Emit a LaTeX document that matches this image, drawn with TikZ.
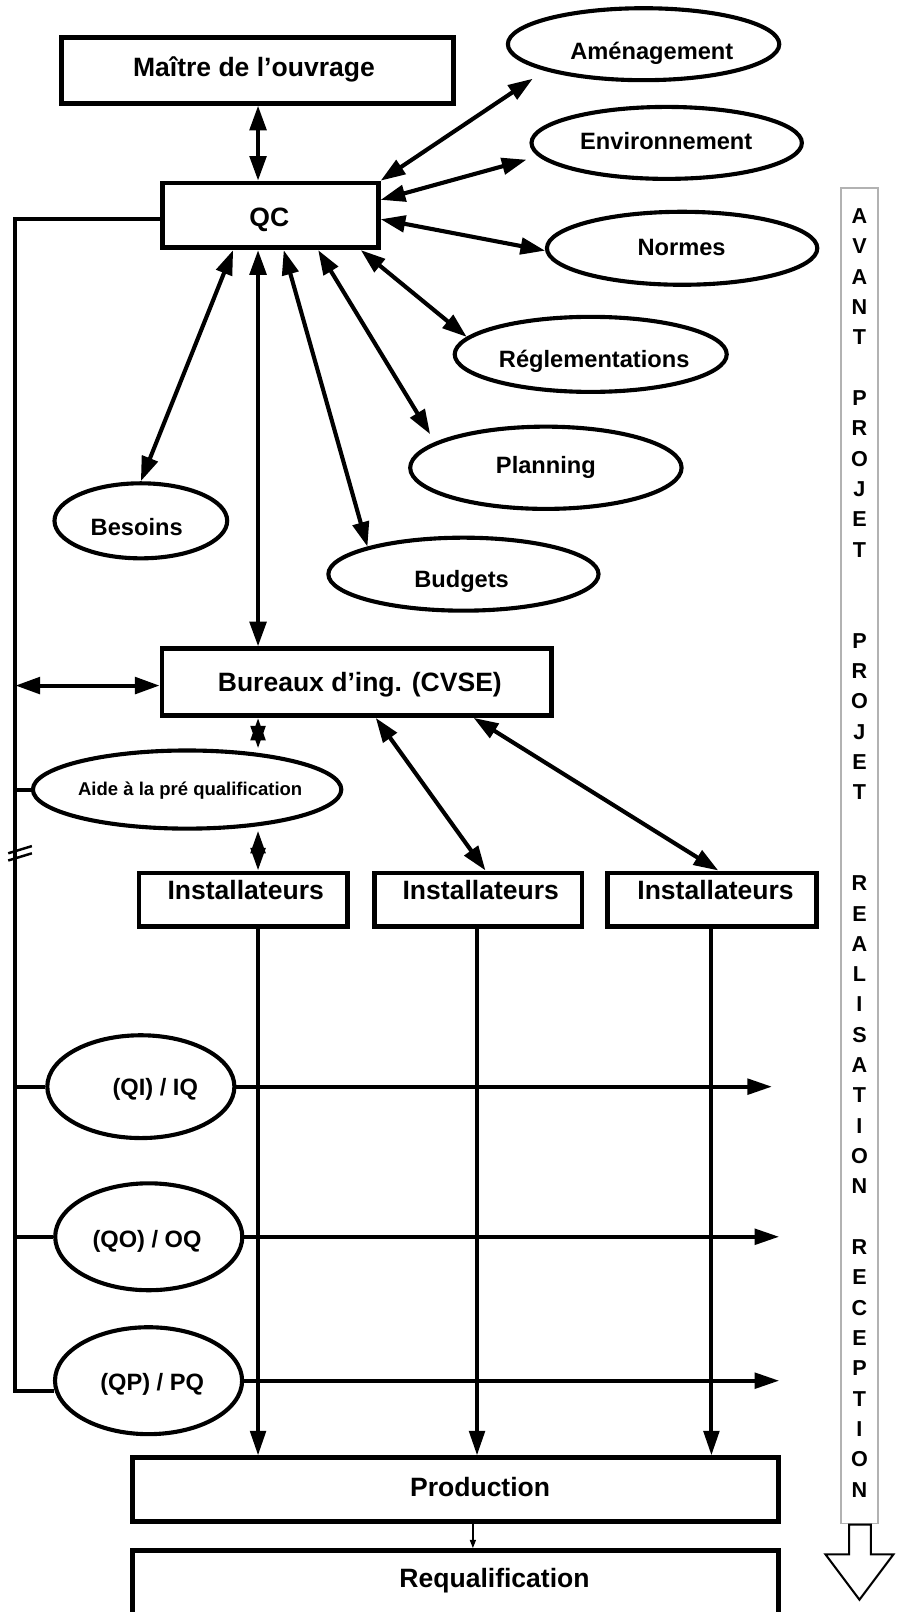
\documentclass[tikz,border=0pt]{standalone}
\usepackage{fontspec}
\setmainfont{Liberation Sans}
\usetikzlibrary{arrows.meta,shapes.geometric}
\begin{document}
\begin{tikzpicture}[x=0.5pt,y=-0.5pt,
  box/.style={draw,line width=2.25pt,rectangle,inner sep=0pt},
  oval/.style={draw,line width=2pt,ellipse,inner sep=0pt},
  btxt/.style={font=\fontsize{12.9}{15}\selectfont\bfseries,anchor=base,inner sep=0pt},
  otxt/.style={font=\fontsize{11.5}{14}\selectfont\bfseries,anchor=base,inner sep=0pt},
  link/.style={line width=2pt},
  dbl/.style={link,{Triangle[length=12pt,width=8pt]}-{Triangle[length=12pt,width=8pt]}},
  one/.style={link,-{Triangle[length=12pt,width=7.5pt]}},
  tiny/.style={link,{Triangle[length=11pt,width=7pt]}-{Triangle[length=11pt,width=7pt]}},
]
\useasboundingbox (0,0) rectangle (872,1568);
\clip (0,0) rectangle (872,1568);

% boxes
\node[box,minimum width=190.5pt,minimum height=32pt] (mo) at (250.5,68.5) {};
\node[btxt] (moT) at (247,74.6) {Maître de l’ouvrage};
\node[box,minimum width=105pt,minimum height=31.5pt] (qc) at (263,209.5) {};
\node[btxt] (qcT) at (262,220) {QC};

% ellipses
\node[oval,minimum width=132pt,minimum height=35pt] (am) at (626,43) {};
\node[otxt] (amT) at (634,57.7) {Aménagement};
\node[oval,minimum width=131.5pt,minimum height=35pt] (env) at (648.5,139) {};
\node[otxt] (envT) at (648,145.3) {Environnement};
\node[oval,minimum width=131.5pt,minimum height=35.5pt] (nor) at (663.5,241.5) {};
\node[otxt] (norT) at (663,249) {Normes};
\node[oval,minimum width=132.3pt,minimum height=36.5pt] (rgl) at (574.6,344.7) {};
\node[otxt] (rglT) at (578,357) {Réglementations};
\node[oval,minimum width=132pt,minimum height=40pt] (pln) at (531,455) {};
\node[otxt] (plnT) at (531,460.7) {Planning};
\node[oval,minimum width=84pt,minimum height=36.5pt] (bes) at (137,506.6) {};
\node[otxt] (besT) at (133,520.7) {Besoins};
\node[oval,minimum width=131.4pt,minimum height=35.5pt] (bud) at (450.8,558.5) {};
\node[otxt] (budT) at (449,571) {Budgets};

\node[box,minimum width=189.5pt,minimum height=32.5pt] (bur) at (347,663.5) {};
\node[btxt] (burT) at (350,673) {Bureaux d’ing. (CVSE)};
\node[oval,minimum width=150pt,minimum height=38pt] (aid) at (182,768) {};
\node[font=\fontsize{9}{11}\selectfont\bfseries,anchor=base,inner sep=0pt] (aidT) at (185,774) {Aide à la pré qualification};

\node[box,minimum width=101.5pt,minimum height=26pt] (ins1) at (236.6,875) {};
\node[btxt] (ins1T) at (239,875) {Installateurs};
\node[box,minimum width=101pt,minimum height=26pt] (ins2) at (465.2,875) {};
\node[btxt] (ins2T) at (467.6,875) {Installateurs};
\node[box,minimum width=101.5pt,minimum height=26pt] (ins3) at (692.7,875) {};
\node[btxt] (ins3T) at (696,875) {Installateurs};

\node[oval,minimum width=91pt,minimum height=50pt] (qi) at (137,1057) {};
\node[otxt] (qiT) at (151,1065.7) {(QI) / IQ};
\node[oval,minimum width=91pt,minimum height=52pt] (qo) at (144.7,1203) {};
\node[otxt] (qoT) at (143,1213) {(QO) / OQ};
\node[oval,minimum width=91pt,minimum height=52pt] (qp) at (144.5,1343) {};
\node[otxt] (qpT) at (148,1353) {(QP) / PQ};

\node[box,minimum width=314pt,minimum height=31pt] (prod) at (443,1449) {};
\node[btxt] (prodT) at (467,1456) {Production};
\node[box,minimum width=314pt,minimum height=60pt] (req) at (443,1568) {};
\node[btxt] (reqT) at (481,1544) {Requalification};

% helper coordinates
\coordinate (lx) at (15,0);
\coordinate (vx) at (251,0);
\coordinate (vx2) at (464,0);
\coordinate (vx3) at (692,0);
\coordinate (xr) at (460,0);
\coordinate (xe1) at (751,0);
\coordinate (xe2) at (758,0);

% connectors
\draw[dbl] (mo.south -| vx) -- (qc.north -| vx);
\draw[dbl,shorten >=7pt] (qc.north east) -- (am.195);
\draw[dbl,shorten >=6pt] (qc.8) -- (env.186);
\draw[dbl] (qc.-2) -- (nor.181);
\draw[dbl] (qc.-21) -- (rgl.172);
\draw[dbl,shorten >=4.5pt] (qc.-36) -- (pln.167);
\draw[dbl] (qc.-69) -- (bud.164);
\draw[dbl] (qc.-137) -- (bes.north);
\draw[dbl] (qc.south -| vx) -- (bur.north -| vx);
\draw[link] (qc.182) -- (lx |- qc.182) -- (lx |- qp.186) -- (qp.186);
\draw[dbl] (lx |- bur.181) -- (bur.181);
\draw[link] (lx |- aid.west) -- (aid.west);
\draw[tiny] (bur.south -| vx) -- (aid.north -| vx);
\draw[tiny] (aid.south -| vx) -- (ins1.north -| vx);
\draw[dbl] (bur.-62) -- (ins2.76);
\draw[dbl] (bur.-17) -- (ins3.78);
\draw[one] (ins1.south -| vx) -- (prod.north -| vx);
\draw[one] (ins2.south -| vx2) -- (prod.north -| vx2);
\draw[one] (ins3.south -| vx3) -- (prod.north -| vx3);
\draw[link] (lx |- qi.west) -- (qi.west);
\draw[link] (lx |- qo.west) -- (qo.west);
\draw[one] (qi.east) -- (qi.east -| xe1);
\draw[one] (qo.east) -- (qo.east -| xe2);
\draw[one] (qp.east) -- (qp.east -| xe2);
\draw[line width=0.6pt,-{Triangle[length=4pt,width=3pt]}] (prod.south -| xr) -- (req.north -| xr);

% break mark
\draw[line width=1.2pt] (8,830) -- (31,823);
\draw[line width=1.2pt] (8,837) -- (31,830);

% phase column
\draw[gray!60,line width=0.75pt] (818,183) rectangle (854,1482);
\node[font=\fontsize{10.5}{14.75}\selectfont\bfseries,align=center,anchor=north,inner sep=0pt] (phase) at (836,202.5)
 {A\\V\\A\\N\\T\\\mbox{}\\P\\R\\O\\J\\E\\T\\\mbox{}\\\mbox{}\\P\\R\\O\\J\\E\\T\\\mbox{}\\\mbox{}\\R\\E\\A\\L\\I\\S\\A\\T\\I\\O\\N\\\mbox{}\\R\\E\\C\\E\\P\\T\\I\\O\\N};
\draw[line width=1pt] (826,1483) -- (847,1483) -- (847,1512) -- (869,1512) -- (836,1556) -- (803,1512) -- (826,1512) -- cycle;
\end{tikzpicture}
\end{document}
